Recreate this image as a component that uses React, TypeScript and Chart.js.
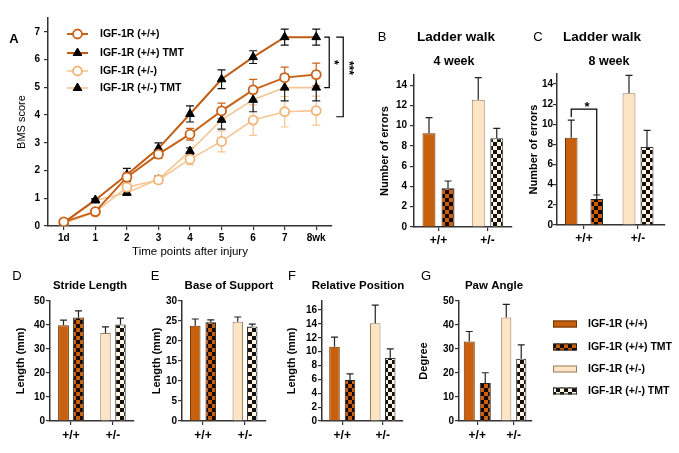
import { useEffect, useRef } from 'react';
import { Chart, registerables } from 'chart.js';
Chart.register(...registerables);

const FF = '"Liberation Sans", Arial, Helvetica, sans-serif';

// ---------------- data ----------------
const timeLabels = ['1d', '1', '2', '3', '4', '5', '6', '7', '8wk'];
const groupNames = ['IGF-1R (+/+)', 'IGF-1R (+/+) TMT', 'IGF-1R (+/-)', 'IGF-1R (+/-) TMT'];
const genotypeLabels = ['+/+', '+/-'];

const bmsWT = [0.15, 0.52, 1.76, 2.59, 3.31, 4.15, 4.91, 5.35, 5.46];
const bmsWTErr = [0.05, 0.05, 0.15, 0.15, 0.21, 0.28, 0.38, 0.38, 0.41];
const bmsWTTMT = [0.12, 0.94, 1.85, 2.8, 4.04, 5.29, 6.09, 6.81, 6.81];
const bmsWTTMTErr = [0.05, 0.05, 0.23, 0.2, 0.29, 0.34, 0.23, 0.29, 0.29];
const bmsHet = [0.1, 0.5, 1.4, 1.66, 2.41, 3.05, 3.82, 4.12, 4.16];
const bmsHetErr = [0.05, 0.05, 0.15, 0.12, 0.2, 0.38, 0.55, 0.55, 0.52];
const bmsHetTMT = [0.12, 0.92, 1.2, 1.68, 2.7, 3.83, 4.55, 4.99, 4.99];
const bmsHetTMTErr = [0.05, 0.05, 0.1, 0.12, 0.12, 0.34, 0.43, 0.48, 0.48];

const ladder4wMean = [9.25, 3.82, 12.55, 8.76];
const ladder4wErr = [1.55, 0.72, 2.2, 0.98];
const ladder8wMean = [8.67, 2.58, 13.1, 7.75];
const ladder8wErr = [1.75, 0.4, 1.76, 1.65];
const strideMean = [39.9, 43.1, 36.7, 40.2];
const strideErr = [2.1, 2.8, 2.5, 2.7];
const supportMean = [23.8, 24.7, 24.8, 23.6];
const supportErr = [1.7, 0.6, 1.2, 0.6];
const relPosMean = [10.7, 5.9, 14.1, 9.1];
const relPosErr = [1.4, 0.9, 2.6, 1.3];
const pawMean = [33.1, 15.8, 43.1, 25.9];
const pawErr = [4.2, 4.3, 5.5, 5.8];

// ---------------- styles ----------------
const WT_LINE = '#C9631A';
const WT_TMT_LINE = '#C05C14';
const HET_LINE = '#F6C593';
const HET_MARK = '#F2B477';
const BAR_DARK = '#C8600E';
const BAR_LIGHT = '#FDE4C4';
const AXIS = '#333';

type Rect = { l: number; t: number; w: number; h: number };
type Plot = { l: number; t: number; r: number; b: number };

const RECT_A: Rect = { l: 0, t: 0, w: 370, h: 265 };
const RECT_B: Rect = { l: 365, t: 22, w: 155, h: 233 };
const RECT_C: Rect = { l: 522, t: 22, w: 157, h: 233 };
const RECT_D: Rect = { l: 0, t: 264, w: 140, h: 189 };
const RECT_E: Rect = { l: 140, t: 264, w: 140, h: 189 };
const RECT_F: Rect = { l: 280, t: 264, w: 135, h: 189 };
const RECT_G: Rect = { l: 408, t: 264, w: 271, h: 189 };
const PANEL_RECTS: Rect[] = [RECT_A, RECT_B, RECT_C, RECT_D, RECT_E, RECT_F, RECT_G];

function checker(c1: string, c2: string, s = 4): any {
  const cv = document.createElement('canvas');
  cv.width = s * 2;
  cv.height = s * 2;
  const g = cv.getContext('2d')!;
  g.fillStyle = c1;
  g.fillRect(0, 0, s * 2, s * 2);
  g.fillStyle = c2;
  g.fillRect(0, 0, s, s);
  g.fillRect(s, s, s, s);
  return g.createPattern(cv, 'repeat');
}

function geom(c: Rect, p: Plot, yTitleX: number, ySize: number, xTitleY?: number, xSize?: number) {
  const padLeft = yTitleX - c.l - (ySize * 1.2) / 2;
  const yWidth = p.l - c.l - padLeft;
  const padTop = p.t - c.t;
  const padRight = c.l + c.w - p.r;
  let padBottom = 0;
  let xHeight = c.t + c.h - p.b;
  if (xTitleY != null && xSize != null) {
    const sb = xTitleY + (xSize * 1.2) / 2;
    padBottom = c.t + c.h - sb;
    xHeight = sb - p.b;
  }
  return { padding: { left: padLeft, top: padTop, right: padRight, bottom: padBottom }, yWidth, xHeight };
}

// ---------------- plugins ----------------
function drawErr(chart: any, o: any) {
  const ctx = chart.ctx;
  const ys = chart.scales.y;
  ctx.save();
  chart.data.datasets.forEach((ds: any, di: number) => {
    const errs = ds.errs;
    if (!errs) return;
    const meta = chart.getDatasetMeta(di);
    ctx.strokeStyle = ds.errColor || '#222';
    ctx.lineWidth = o.width || 1.2;
    meta.data.forEach((el: any, i: number) => {
      const v = ds.data[i];
      const e = errs[i];
      if (v == null || e == null) return;
      const x = el.x;
      const yTop = ys.getPixelForValue(v + e);
      const yBot = o.both ? ys.getPixelForValue(v - e) : ys.getPixelForValue(v);
      ctx.beginPath();
      ctx.moveTo(x, yBot);
      ctx.lineTo(x, yTop);
      ctx.moveTo(x - o.cap, yTop);
      ctx.lineTo(x + o.cap, yTop);
      if (o.both) {
        ctx.moveTo(x - o.cap, yBot);
        ctx.lineTo(x + o.cap, yBot);
      }
      ctx.stroke();
    });
  });
  ctx.restore();
}

const errPlugin = {
  id: 'errbars',
  beforeDatasetsDraw(chart: any, _a: any, o: any) {
    if (o.under) drawErr(chart, o);
  },
  afterDatasetsDraw(chart: any, _a: any, o: any) {
    if (!o.under) drawErr(chart, o);
  },
};

const textPlugin = {
  id: 'texts',
  afterDraw(chart: any, _a: any, o: any) {
    const ctx = chart.ctx;
    (o.items || []).forEach((it: any) => {
      ctx.save();
      ctx.font = `${it.bold ? 'bold ' : ''}${it.size}px ${FF}`;
      ctx.fillStyle = '#000';
      ctx.textAlign = it.align || 'center';
      ctx.textBaseline = 'middle';
      ctx.translate(it.x - o.ox, it.y - o.oy);
      if (it.rot) ctx.rotate(it.rot);
      ctx.fillText(it.text, 0, 0);
      ctx.restore();
    });
  },
};

function drawMarker(ctx: any, ds: any, x: number, y: number) {
  const r = ds.pointRadius;
  ctx.beginPath();
  if (ds.pointStyle === 'triangle') {
    for (let k = 0; k < 3; k++) {
      const a = (k * 2 * Math.PI) / 3;
      const px = x + Math.sin(a) * r;
      const py = y - Math.cos(a) * r;
      if (k === 0) ctx.moveTo(px, py);
      else ctx.lineTo(px, py);
    }
    ctx.closePath();
  } else {
    ctx.arc(x, y, r, 0, Math.PI * 2);
  }
  ctx.fillStyle = ds.pointBackgroundColor;
  ctx.fill();
  ctx.lineWidth = ds.pointBorderWidth;
  ctx.strokeStyle = ds.pointBorderColor;
  ctx.stroke();
}

const legendAPlugin = {
  id: 'legendA',
  afterDraw(chart: any, _a: any, o: any) {
    const ctx = chart.ctx;
    chart.data.datasets.forEach((ds: any, i: number) => {
      const y = o.ys[i];
      ctx.save();
      ctx.strokeStyle = ds.borderColor;
      ctx.lineWidth = ds.borderWidth;
      ctx.beginPath();
      ctx.moveTo(o.x0, y);
      ctx.lineTo(o.x1, y);
      ctx.stroke();
      drawMarker(ctx, ds, o.mx, y);
      ctx.fillStyle = '#000';
      ctx.font = `bold 10.5px ${FF}`;
      ctx.textAlign = 'left';
      ctx.textBaseline = 'middle';
      ctx.fillText(ds.label, o.tx, y);
      ctx.restore();
    });
  },
};

const sigAPlugin = {
  id: 'sigA',
  afterDatasetsDraw(chart: any) {
    const ctx = chart.ctx;
    const xs = chart.scales.x;
    const ys = chart.scales.y;
    const last = timeLabels.length - 1;
    const xe = xs.getPixelForValue(last);
    const top = ys.getPixelForValue(bmsWTTMT[last]);
    const b1 = ys.getPixelForValue(bmsHetTMT[last]);
    const b2 = ys.getPixelForValue(bmsHet[last] - 0.22);
    ctx.save();
    ctx.strokeStyle = '#000';
    ctx.lineWidth = 1.2;
    ctx.beginPath();
    ctx.moveTo(xe + 8, top);
    ctx.lineTo(xe + 13, top);
    ctx.lineTo(xe + 13, b1);
    ctx.lineTo(xe + 8, b1);
    ctx.moveTo(xe + 20, top);
    ctx.lineTo(xe + 27, top);
    ctx.lineTo(xe + 27, b2);
    ctx.lineTo(xe + 20, b2);
    ctx.stroke();
    ctx.fillStyle = '#000';
    ctx.font = `bold 12px ${FF}`;
    ctx.textAlign = 'center';
    ctx.textBaseline = 'middle';
    ctx.translate(xe + 17, (top + b1) / 2);
    ctx.rotate(Math.PI / 2);
    ctx.fillText('*', 0, 0);
    ctx.restore();
    ctx.save();
    ctx.fillStyle = '#000';
    ctx.font = `bold 12px ${FF}`;
    ctx.textAlign = 'center';
    ctx.textBaseline = 'middle';
    ctx.translate(xe + 32.5, (top + b2) / 2 - 9);
    ctx.rotate(Math.PI / 2);
    ctx.fillText('***', 0, 0);
    ctx.restore();
  },
};

const sigCPlugin = {
  id: 'sigC',
  afterDatasetsDraw(chart: any) {
    const ctx = chart.ctx;
    const ys = chart.scales.y;
    const e0 = chart.getDatasetMeta(0).data[0];
    const e1 = chart.getDatasetMeta(1).data[0];
    const level = ys.getPixelForValue(ladder8wMean[0] + ladder8wErr[0] + 1.1);
    const l0 = ys.getPixelForValue(ladder8wMean[0] + ladder8wErr[0] + 0.3);
    const l1 = ys.getPixelForValue(ladder8wMean[1] + ladder8wErr[1]);
    ctx.save();
    ctx.strokeStyle = '#000';
    ctx.lineWidth = 1.2;
    ctx.beginPath();
    ctx.moveTo(e0.x, l0);
    ctx.lineTo(e0.x, level);
    ctx.lineTo(e1.x, level);
    ctx.lineTo(e1.x, l1);
    ctx.stroke();
    ctx.fillStyle = '#000';
    ctx.font = `bold 13px ${FF}`;
    ctx.textAlign = 'center';
    ctx.textBaseline = 'middle';
    ctx.fillText('*', (e0.x + e1.x) / 2 + 3, level - 2);
    ctx.restore();
  },
};

const barLegendPlugin = {
  id: 'barLegend',
  afterDraw(chart: any, _a: any, o: any) {
    const ctx = chart.ctx;
    chart.data.datasets.forEach((ds: any, i: number) => {
      const y = o.ys[i] - o.oy;
      const x = o.sx - o.ox;
      ctx.save();
      ctx.fillStyle = ds.backgroundColor;
      ctx.fillRect(x, y - o.sh / 2, o.sw, o.sh);
      ctx.strokeStyle = ds.borderColor;
      ctx.lineWidth = 1;
      ctx.strokeRect(x + 0.5, y - o.sh / 2 + 0.5, o.sw - 1, o.sh - 1);
      ctx.fillStyle = '#000';
      ctx.font = `bold 10.5px ${FF}`;
      ctx.textAlign = 'left';
      ctx.textBaseline = 'middle';
      ctx.fillText(ds.label, o.tx - o.ox, y);
      ctx.restore();
    });
  },
};

// ---------------- builders ----------------
function evenTicks(step: number) {
  return (axis: any) => {
    const out: any[] = [];
    for (let k = 0; k * step <= axis.max + 1e-9; k++) out.push({ value: +(k * step).toFixed(6) });
    axis.ticks = out;
  };
}

function axisGrid() {
  return { display: true, drawOnChartArea: false, drawTicks: true, tickLength: 4, color: AXIS, lineWidth: 1.2, offset: false };
}

function lineConfig() {
  const c = RECT_A;
  const g = geom(c, { l: 48, t: 18, r: 332, b: 226 }, 22, 11, 252, 11.5);
  const mk = (label: string, data: number[], errs: number[], line: string, lw: number, tri: boolean, markColor: string, errColor: string) => ({
    label,
    data,
    errs,
    errColor,
    borderColor: line,
    borderWidth: lw,
    tension: 0,
    fill: false,
    pointStyle: tri ? 'triangle' : 'circle',
    pointRadius: tri ? 5 : 4.5,
    pointBorderWidth: tri ? 1 : 1.8,
    pointBackgroundColor: tri ? '#000' : '#fff',
    pointBorderColor: tri ? '#000' : markColor,
  });
  return {
    config: {
      type: 'line',
      data: {
        labels: timeLabels,
        datasets: [
          mk(groupNames[0], bmsWT, bmsWTErr, WT_LINE, 2, false, WT_LINE, WT_LINE),
          mk(groupNames[1], bmsWTTMT, bmsWTTMTErr, WT_TMT_LINE, 2, true, '#000', '#111'),
          mk(groupNames[2], bmsHet, bmsHetErr, HET_LINE, 1.6, false, HET_MARK, HET_LINE),
          mk(groupNames[3], bmsHetTMT, bmsHetTMTErr, HET_LINE, 1.6, true, '#000', '#222'),
        ],
      },
      plugins: [errPlugin, textPlugin, legendAPlugin, sigAPlugin],
      options: {
        responsive: false,
        animation: false,
        events: [],
        layout: { padding: g.padding },
        plugins: {
          legend: { display: false },
          tooltip: { enabled: false },
          errbars: { under: true, both: true, cap: 4, width: 1.2 },
          texts: { ox: c.l, oy: c.t, items: [{ x: 14, y: 39, text: 'A', size: 13, bold: true }] },
          legendA: { x0: 67, x1: 88, mx: 77.5, tx: 100, ys: [34, 53, 71, 88] },
        },
        scales: {
          x: {
            type: 'category',
            offset: true,
            afterFit: (s: any) => { s.height = g.xHeight; },
            grid: axisGrid(),
            border: { display: true, color: AXIS, width: 1.5 },
            ticks: { color: '#000', font: { family: FF, size: 10, weight: 'bold' }, padding: 2, autoSkip: false, maxRotation: 0 },
            title: { display: true, text: 'Time points after injury', color: '#000', font: { family: FF, size: 11.5, lineHeight: 1.2 }, padding: 0 },
          },
          y: {
            min: 0,
            max: 7.5,
            afterFit: (s: any) => { s.width = g.yWidth; },
            afterBuildTicks: evenTicks(1),
            grid: axisGrid(),
            border: { display: true, color: AXIS, width: 1.5 },
            ticks: { stepSize: 1, color: '#000', font: { family: FF, size: 10, weight: 'bold' }, padding: 4 },
            title: { display: true, text: 'BMS score', color: '#000', font: { family: FF, size: 11, lineHeight: 1.2 }, padding: 0 },
          },
        },
      },
    },
  };
}

function barConfig(p: {
  rect: Rect; plot: Plot; yTitleX: number; yTitle: string; yMax: number; yStep: number;
  means: number[]; errs: number[]; cp: number[]; bp: number[]; tickPad: number; labelPad: number;
  items: any[]; extra?: any[]; legend?: any;
}, fills: any[]) {
  const g = geom(p.rect, p.plot, p.yTitleX, 11);
  const borders = ['#6a3000', '#222', '#9a7c60', '#333'];
  const datasets = p.means.map((m, i) => {
    const grp = i < 2 ? 0 : 1;
    return {
      label: groupNames[i],
      data: grp === 0 ? [m, null] : [null, m],
      errs: grp === 0 ? [p.errs[i], null] : [null, p.errs[i]],
      errColor: '#222',
      backgroundColor: fills[i],
      borderColor: borders[i],
      borderWidth: 1,
      skipNull: true,
      categoryPercentage: p.cp[grp],
      barPercentage: p.bp[grp],
    };
  });
  const plugins: any[] = [errPlugin, textPlugin, ...(p.extra || [])];
  const pluginOpts: any = {
    legend: { display: false },
    tooltip: { enabled: false },
    errbars: { under: false, both: false, cap: 3.5, width: 1.2 },
    texts: { ox: p.rect.l, oy: p.rect.t, items: p.items },
  };
  if (p.legend) {
    plugins.push(barLegendPlugin);
    pluginOpts.barLegend = { ...p.legend, ox: p.rect.l, oy: p.rect.t };
  }
  return {
    config: {
      type: 'bar',
      data: { labels: genotypeLabels, datasets },
      plugins,
      options: {
        responsive: false,
        animation: false,
        events: [],
        layout: { padding: g.padding },
        plugins: pluginOpts,
        scales: {
          x: {
            type: 'category',
            offset: true,
            afterFit: (s: any) => { s.height = g.xHeight; },
            grid: axisGrid(),
            border: { display: true, color: AXIS, width: 1.5 },
            ticks: { color: '#000', font: { family: FF, size: 12, weight: 'bold' }, padding: p.labelPad, autoSkip: false, maxRotation: 0 },
          },
          y: {
            min: 0,
            max: p.yMax,
            afterFit: (s: any) => { s.width = g.yWidth; },
            afterBuildTicks: evenTicks(p.yStep),
            grid: axisGrid(),
            border: { display: true, color: AXIS, width: 1.5 },
            ticks: { stepSize: p.yStep, color: '#000', font: { family: FF, size: 10, weight: 'bold' }, padding: p.tickPad },
            title: { display: true, text: p.yTitle, color: '#000', font: { family: FF, size: 11, weight: 'bold', lineHeight: 1.2 }, padding: 0 },
          },
        },
      },
    },
  };
}

function buildAll() {
  const fills = [
    BAR_DARK,
    checker(BAR_DARK, '#1a0800', 4),
    BAR_LIGHT,
    checker('#FFF3DF', '#111', 4),
  ];
  return [
    lineConfig(),
    barConfig({
      rect: RECT_B, plot: { l: 414, t: 75, r: 512, b: 227 }, yTitleX: 385,
      yTitle: 'Number of errors', yMax: 15, yStep: 2, means: ladder4wMean, errs: ladder4wErr,
      cp: [0.776, 0.755], bp: [0.68, 0.7], tickPad: 3, labelPad: 2,
      items: [
        { x: 382, y: 37, text: 'B', size: 13 },
        { x: 456, y: 37, text: 'Ladder walk', size: 13.5, bold: true },
        { x: 454, y: 62, text: '4 week', size: 12.5, bold: true },
      ],
    }, fills),
    barConfig({
      rect: RECT_C, plot: { l: 557, t: 74, r: 665, b: 225 }, yTitleX: 534,
      yTitle: 'Number of errors', yMax: 15, yStep: 2, means: ladder8wMean, errs: ladder8wErr,
      cp: [0.944, 0.667], bp: [0.49, 0.72], tickPad: 0, labelPad: 2,
      items: [
        { x: 538, y: 37, text: 'C', size: 13 },
        { x: 602, y: 37, text: 'Ladder walk', size: 13.5, bold: true },
        { x: 609, y: 62, text: '8 week', size: 12.5, bold: true },
      ],
      extra: [sigCPlugin],
    }, fills),
    barConfig({
      rect: RECT_D, plot: { l: 50, t: 301, r: 134, b: 421 }, yTitleX: 21,
      yTitle: 'Length (mm)', yMax: 50, yStep: 10, means: strideMean, errs: strideErr,
      cp: [0.714, 0.714], bp: [0.72, 0.7], tickPad: 1, labelPad: 3,
      items: [
        { x: 17, y: 276, text: 'D', size: 13 },
        { x: 90, y: 286, text: 'Stride Length', size: 11.5, bold: true },
      ],
    }, fills),
    barConfig({
      rect: RECT_E, plot: { l: 182, t: 301, r: 266, b: 421 }, yTitleX: 157,
      yTitle: 'Length (mm)', yMax: 30, yStep: 5, means: supportMean, errs: supportErr,
      cp: [0.74, 0.69], bp: [0.68, 0.72], tickPad: 1, labelPad: 3,
      items: [
        { x: 155, y: 276, text: 'E', size: 13 },
        { x: 229, y: 286, text: 'Base of Support', size: 11.5, bold: true },
      ],
    }, fills),
    barConfig({
      rect: RECT_F, plot: { l: 322, t: 301, r: 403, b: 421 }, yTitleX: 292,
      yTitle: 'Length (mm)', yMax: 17.3, yStep: 2, means: relPosMean, errs: relPosErr,
      cp: [0.765, 0.74], bp: [0.68, 0.7], tickPad: 1, labelPad: 3,
      items: [
        { x: 292, y: 276, text: 'F', size: 13 },
        { x: 358, y: 286, text: 'Relative Position', size: 11.5, bold: true },
      ],
    }, fills),
    barConfig({
      rect: RECT_G, plot: { l: 459, t: 301, r: 532, b: 421 }, yTitleX: 424,
      yTitle: 'Degree', yMax: 50, yStep: 10, means: pawMean, errs: pawErr,
      cp: [0.876, 0.82], bp: [0.69, 0.68], tickPad: 1, labelPad: 3,
      items: [
        { x: 426, y: 276, text: 'G', size: 13 },
        { x: 494, y: 286, text: 'Paw Angle', size: 11.5, bold: true },
      ],
      legend: { sx: 553, sw: 24, sh: 7, tx: 588, ys: [324, 347, 369, 391] },
    }, fills),
  ];
}

export default function App() {
  const refs = useRef<(HTMLCanvasElement | null)[]>([]);
  useEffect(() => {
    const panels = buildAll();
    const charts = panels.map((p, i) => new Chart(refs.current[i] as HTMLCanvasElement, p.config as any));
    return () => charts.forEach((c) => c.destroy());
  }, []);
  return (
    <div style={{ position: 'absolute', left: 0, top: 0, width: 679, height: 453, background: '#fff', overflow: 'hidden' }}>
      {PANEL_RECTS.map((r, i) => (
        <canvas
          key={i}
          ref={(el) => { refs.current[i] = el; }}
          width={r.w}
          height={r.h}
          style={{ position: 'absolute', left: r.l, top: r.t, width: r.w, height: r.h }}
        />
      ))}
    </div>
  );
}
